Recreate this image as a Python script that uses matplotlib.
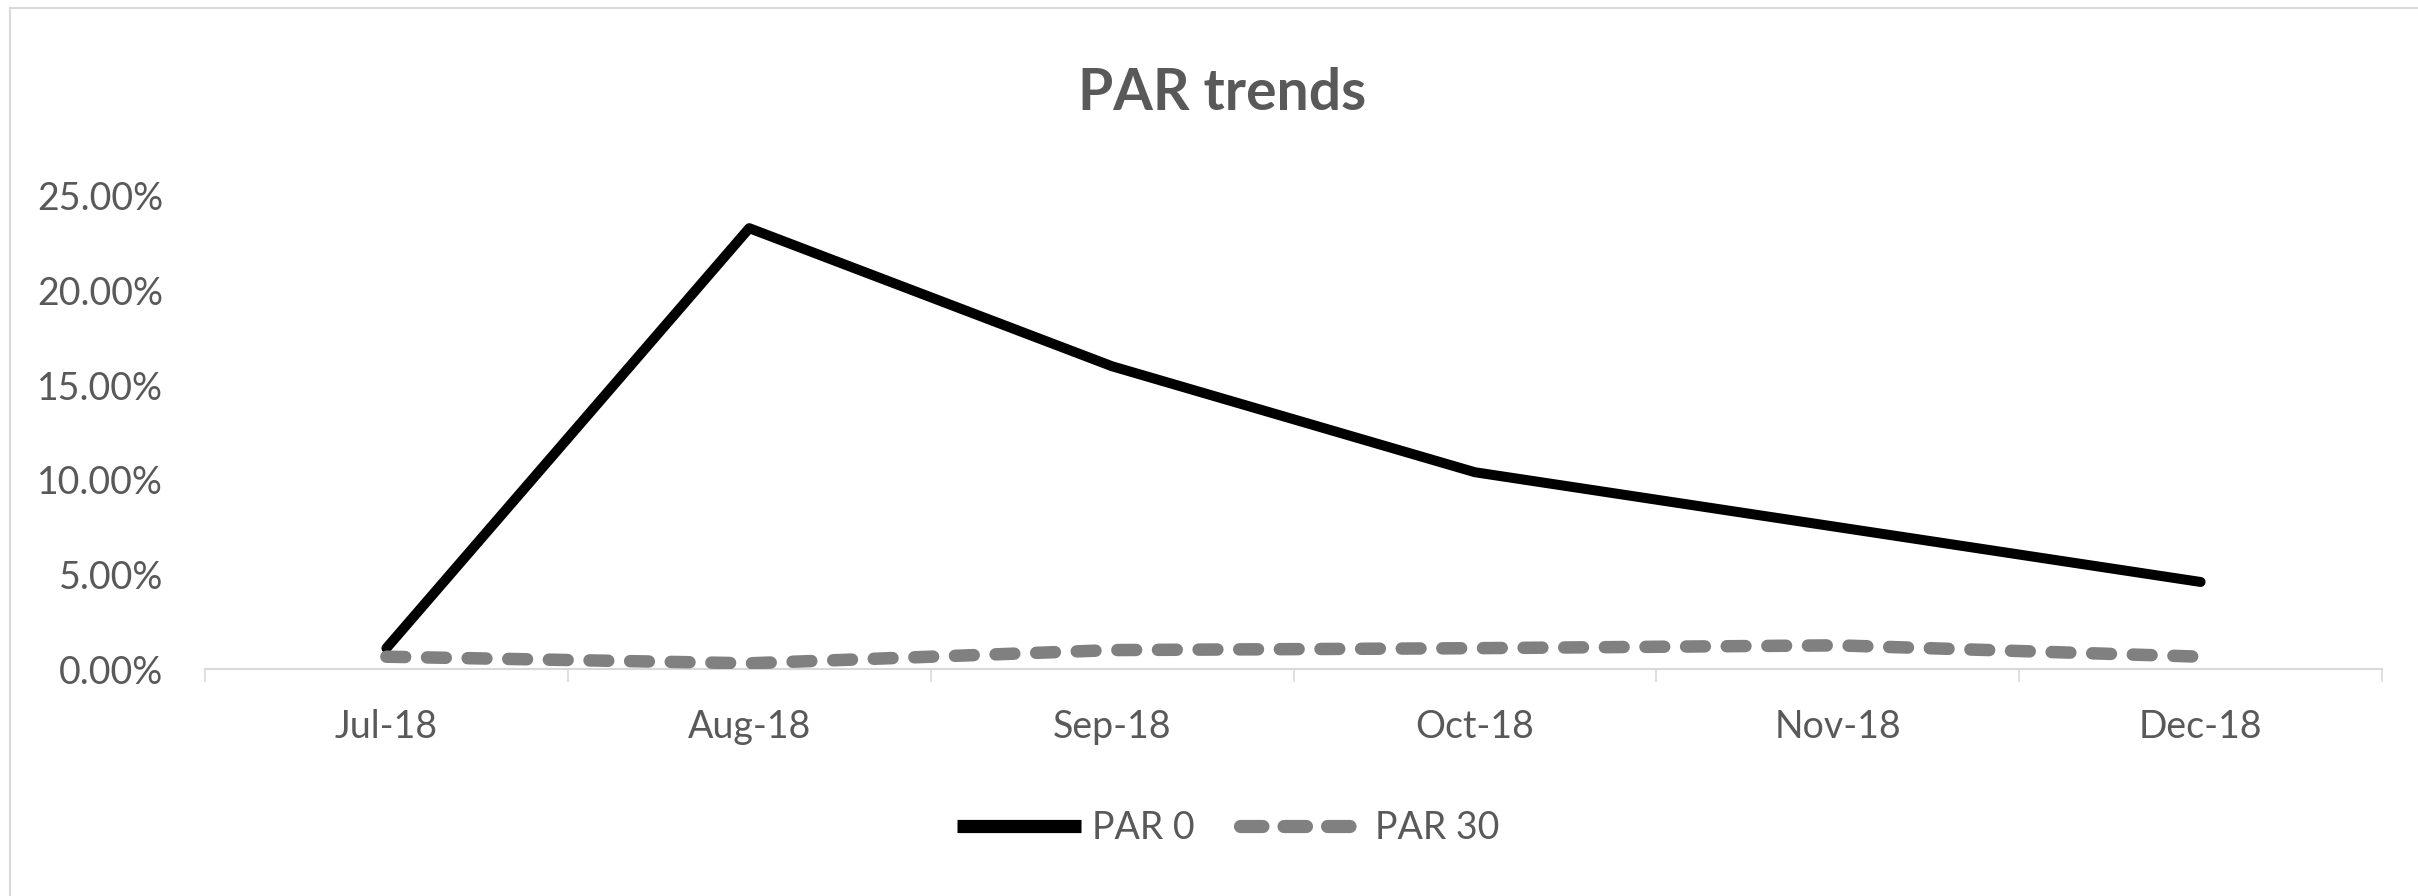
import matplotlib
matplotlib.use("Agg")
import matplotlib.pyplot as plt
from matplotlib.lines import Line2D
from matplotlib.ticker import FixedLocator, FuncFormatter

months = ["Jul-18", "Aug-18", "Sep-18", "Oct-18", "Nov-18", "Dec-18"]
par0 = [1.1, 23.3, 16.0, 10.4, 7.5, 4.6]
par30 = [0.65, 0.3, 1.0, 1.1, 1.25, 0.65]
yticks = [0, 5, 10, 15, 20, 25]

W, H = 2418, 896
DPI = 100
plt.rcParams['font.family'] = ['Lato', 'DejaVu Sans']
TXT = '#595959'

fig = plt.figure(figsize=(W / DPI, H / DPI), dpi=DPI)
ax = fig.add_axes([205 / W, 1 - 669 / H, (2382 - 205) / W, (669 - 196) / H])

x = list(range(len(months)))
ax.plot(x, par0, color='black', lw=7.2, solid_capstyle='round',
        solid_joinstyle='round', label='PAR 0', zorder=3)
l30, = ax.plot(x, par30, color='#808080', lw=9, dash_capstyle='round',
               dash_joinstyle='round', label='PAR 30', zorder=4)
l30.set_dashes((1.5, 1.75))

ax.set_xlim(-0.5, len(months) - 0.5)
ax.set_ylim(0, 25)
ax.set_xticks(x)
ax.set_xticklabels(months)
ax.xaxis.set_minor_locator(FixedLocator([i - 0.5 for i in range(len(months) + 1)]))
ax.set_yticks(yticks)
ax.yaxis.set_major_formatter(FuncFormatter(lambda v, p: f"{v:.2f}%"))

for s in ['top', 'right', 'left']:
    ax.spines[s].set_visible(False)
ax.spines['bottom'].set_color('#d9d9d9')
ax.spines['bottom'].set_linewidth(1.5)

ax.tick_params(axis='x', which='major', length=0, pad=29, labelsize=27, labelcolor=TXT)
ax.tick_params(axis='x', which='minor', length=9.5, width=1.2, color='#d9d9d9')
ax.tick_params(axis='y', length=0, pad=30, labelsize=27, labelcolor=TXT)

fig.text(1222 / W, 1 - 93 / H, "PAR trends", ha='center', va='center',
         fontsize=41, fontweight='bold', color=TXT)

h0 = Line2D([], [], color='black', lw=9.5, solid_capstyle='butt')
h1 = Line2D([], [], color='#808080', lw=9.5, dash_capstyle='round')
h1.set_dashes((1.7, 1.6))
leg = fig.legend([h0, h1], ['PAR 0', 'PAR 30'], loc='center',
                 bbox_to_anchor=(1228 / W, 1 - 828 / H), ncol=2, frameon=False,
                 fontsize=27, handlelength=3.3, handletextpad=0.3,
                 columnspacing=1.2, labelcolor=TXT)

# chart-area border (top and left only)
fig.add_artist(Line2D([10 / W, 1], [1 - 8 / H, 1 - 8 / H], color='#d9d9d9', lw=1.5,
                      transform=fig.transFigure))
fig.add_artist(Line2D([10 / W, 10 / W], [0, 1 - 8 / H], color='#d9d9d9', lw=1.5,
                      transform=fig.transFigure))

fig.savefig('out.png', dpi=DPI, facecolor='white')
